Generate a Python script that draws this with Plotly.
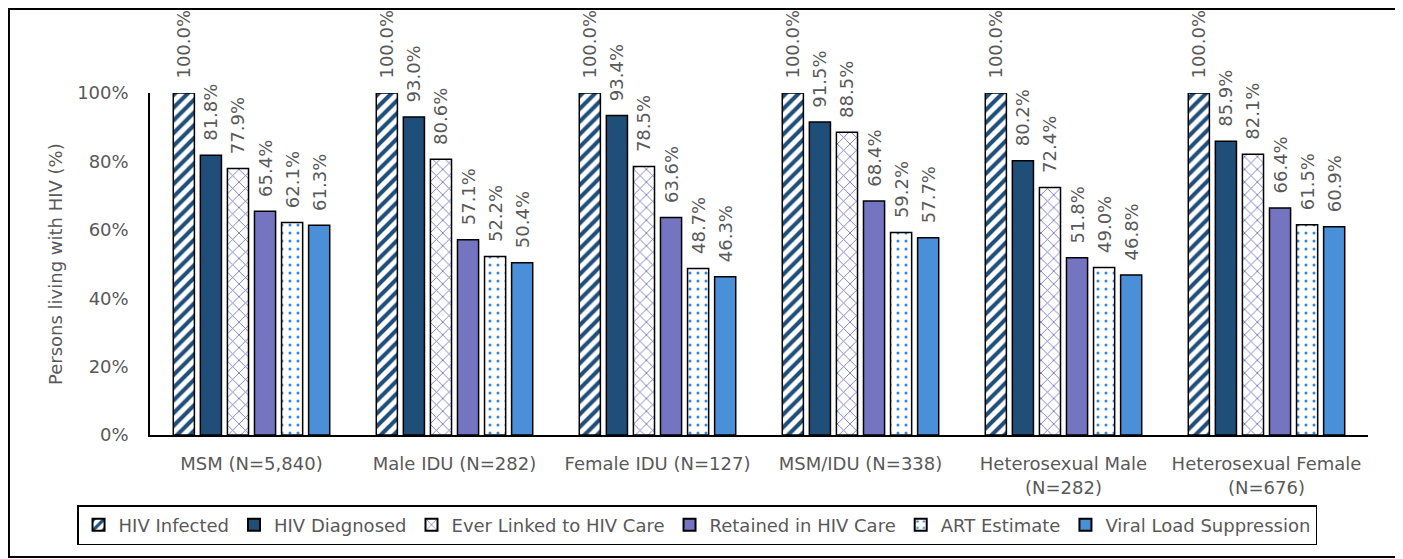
import plotly.graph_objects as go

categories = ["MSM (N=5,840)", "Male IDU (N=282)", "Female IDU (N=127)", "MSM/IDU (N=338)",
              "Heterosexual Male<br>(N=282)", "Heterosexual Female<br>(N=676)"]
series_names = ["HIV Infected", "HIV Diagnosed", "Ever Linked to HIV Care",
                "Retained in HIV Care", "ART Estimate", "Viral Load Suppression"]
hiv_infected = [1.000, 1.000, 1.000, 1.000, 1.000, 1.000]
hiv_diagnosed = [0.818, 0.930, 0.934, 0.915, 0.802, 0.859]
ever_linked = [0.779, 0.806, 0.785, 0.885, 0.724, 0.821]
retained = [0.654, 0.571, 0.636, 0.684, 0.518, 0.664]
art_estimate = [0.621, 0.522, 0.487, 0.592, 0.490, 0.615]
viral_load = [0.613, 0.504, 0.463, 0.577, 0.468, 0.609]
y_ticks = [0, 0.2, 0.4, 0.6, 0.8, 1.0]

values = [hiv_infected, hiv_diagnosed, ever_linked, retained, art_estimate, viral_load]
styles = [
    dict(color="white", pattern=dict(shape="/", fgcolor="#1F4E79", bgcolor="white", size=9, solidity=0.45, fillmode="replace")),
    dict(color="#1F4E79"),
    dict(color="white", pattern=dict(shape="x", fgcolor="#6F6DC0", bgcolor="white", size=9, solidity=0.18, fillmode="replace")),
    dict(color="#7474C1"),
    dict(color="white", pattern=dict(shape=".", fgcolor="#3F8AD8", bgcolor="white", size=8, solidity=0.12, fillmode="replace")),
    dict(color="#4A90D9"),
]

FONT = "DejaVu Sans"
GREY = "#595959"

fig = go.Figure()
for name, vals, st in zip(series_names, values, styles):
    fig.add_trace(go.Bar(
        x=categories, y=vals, name=name,
        marker=dict(line=dict(color="black", width=1.5), **st),
        texttemplate="\u00a0\u00a0%{y:.1%}", textposition="outside", textangle=-90,
        textfont=dict(family=FONT, size=18, color=GREY),
        cliponaxis=False, constraintext="none",
    ))

# figure is drawn 8px in from the page edge (default body margin), so it is 8px smaller
fig.update_layout(
    width=1395, height=551,
    margin=dict(l=142, r=35, t=85, b=124),
    paper_bgcolor="white", plot_bgcolor="white",
    barmode="group", bargap=0.2, bargroupgap=0.22,
    font=dict(family=FONT, size=18, color=GREY),
    showlegend=True,
    legend=dict(orientation="h", x=-0.0599, xanchor="left", y=-0.2047, yanchor="top",
                bordercolor="black", borderwidth=1.5, font=dict(family=FONT, size=18, color=GREY),
                bgcolor="white", itemsizing="constant"),
    xaxis=dict(showline=True, linecolor="black", linewidth=1.5, ticks="", showgrid=False,
               tickfont=dict(family=FONT, size=18, color=GREY), ticklabelstandoff=12),
    yaxis=dict(range=[0, 1], showline=True, linecolor="black", linewidth=1.5, ticks="", showgrid=False,
               tickvals=y_ticks, tickformat=".0%", zeroline=False,
               tickfont=dict(family=FONT, size=18, color=GREY), ticklabelstandoff=16),
    annotations=[dict(text="Persons living with HIV (%)", textangle=-90, xref="paper", yref="paper",
                      x=-0.078, y=0.5, xanchor="center", yanchor="middle", showarrow=False,
                      font=dict(family=FONT, size=18, color=GREY))],
    shapes=[dict(type="rect", xref="paper", yref="paper", x0=-0.1158, x1=1.0230, y0=-0.3567, y1=1.2456,
                 line=dict(color="black", width=2), fillcolor="rgba(0,0,0,0)", layer="below")],
)

fig.write_html("out.html")
